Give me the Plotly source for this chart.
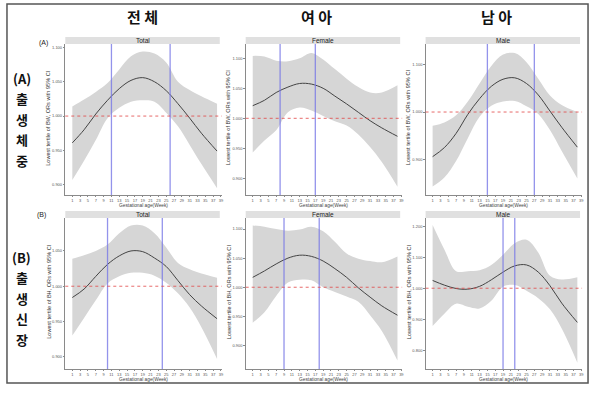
import plotly.graph_objects as go

W, H = 600, 393

weeks = [1, 4, 7, 10, 13, 16, 19, 22, 25, 28, 31, 34, 38]

# Panel data (center, upper, lower)
bw_total_c = [0.961, 0.980, 1.003, 1.023, 1.040, 1.052, 1.056, 1.050, 1.037, 1.018, 0.997, 0.975, 0.949]
bw_total_u = [1.014, 1.024, 1.035, 1.048, 1.068, 1.087, 1.094, 1.091, 1.078, 1.050, 1.038, 1.029, 1.018]
bw_total_l = [0.907, 0.935, 0.965, 0.997, 1.012, 1.021, 1.023, 1.021, 1.005, 0.985, 0.958, 0.930, 0.895]

bw_female_c = [1.021, 1.030, 1.043, 1.052, 1.058, 1.057, 1.050, 1.037, 1.024, 1.010, 0.996, 0.984, 0.970]
bw_female_u = [1.104, 1.103, 1.096, 1.095, 1.100, 1.109, 1.098, 1.082, 1.066, 1.052, 1.043, 1.043, 1.055]
bw_female_l = [0.943, 0.963, 0.980, 1.010, 1.018, 1.013, 1.004, 0.995, 0.988, 0.973, 0.952, 0.927, 0.886]

bw_male_c = [0.906, 0.925, 0.955, 0.995, 1.028, 1.054, 1.069, 1.072, 1.060, 1.036, 1.002, 0.968, 0.926]
bw_male_u = [0.971, 0.978, 0.993, 1.022, 1.060, 1.097, 1.121, 1.124, 1.105, 1.070, 1.035, 1.015, 1.000]
bw_male_l = [0.843, 0.862, 0.897, 0.945, 0.990, 1.013, 1.022, 1.023, 1.012, 0.996, 0.962, 0.918, 0.860]

bh_total_c = [0.984, 0.996, 1.014, 1.031, 1.043, 1.050, 1.049, 1.040, 1.028, 1.008, 0.988, 0.972, 0.954]
bh_total_u = [1.039, 1.044, 1.050, 1.059, 1.075, 1.086, 1.086, 1.075, 1.055, 1.033, 1.024, 1.018, 1.012]
bh_total_l = [0.930, 0.955, 0.980, 1.004, 1.014, 1.019, 1.019, 1.015, 1.005, 0.990, 0.970, 0.942, 0.897]

bh_female_c = [1.017, 1.028, 1.040, 1.050, 1.055, 1.053, 1.045, 1.032, 1.017, 0.999, 0.983, 0.968, 0.952]
bh_female_u = [1.106, 1.104, 1.100, 1.097, 1.099, 1.104, 1.096, 1.078, 1.058, 1.049, 1.045, 1.043, 1.053]
bh_female_l = [0.939, 0.957, 0.985, 1.008, 1.013, 1.012, 1.000, 0.992, 0.984, 0.975, 0.952, 0.925, 0.874]

bh_male_c = [1.025, 1.010, 0.999, 0.997, 1.006, 1.027, 1.052, 1.072, 1.075, 1.052, 1.008, 0.952, 0.890]
bh_male_u = [1.204, 1.125, 1.055, 1.055, 1.058, 1.075, 1.108, 1.145, 1.156, 1.115, 1.040, 1.028, 1.035]
bh_male_l = [0.878, 0.918, 0.950, 0.940, 0.935, 0.960, 1.005, 1.010, 0.992, 0.968, 0.932, 0.870, 0.760]

panel_titles = ["Total", "Female", "Male", "Total", "Female", "Male"]
window_lines = [[11, 26], [8, 17], [15, 27], [10, 24], [9, 18], [19, 22]]
y_ranges = [[0.885, 1.105], [0.8722, 1.1238], [0.8253, 1.1432],
            [0.8827, 1.0967], [0.8596, 1.1189], [0.7398, 1.2262]]
y_ticks = [[0.90, 0.95, 1.00, 1.05, 1.10], [0.90, 0.95, 1.00, 1.05, 1.10], [0.90, 1.00, 1.10],
           [0.90, 0.95, 1.00, 1.05], [0.90, 0.95, 1.00, 1.05, 1.10], [0.80, 0.90, 1.00, 1.10, 1.20]]
x_ticks = list(range(1, 40, 2))
y_titles = ["Lowest tertile of BW, ORs with 95% CI"] * 3 + ["Lowest tertile of BH, ORs with 95% CI"] * 3
col_titles = ["전 체", "여 아", "남 아"]

panels = [
    (bw_total_c, bw_total_u, bw_total_l),
    (bw_female_c, bw_female_u, bw_female_l),
    (bw_male_c, bw_male_u, bw_male_l),
    (bh_total_c, bh_total_u, bh_total_l),
    (bh_female_c, bh_female_u, bh_female_l),
    (bh_male_c, bh_male_u, bh_male_l),
]

# layout geometry in pixels
col_px = [(65.5, 222.5), (246.5, 403.5), (427, 584)]
row_px = [(44, 195), (218, 369)]
strip_h = 7
XR = [-0.8, 39.2]

def px(x):
    return x / W

def py(y):
    return 1 - y / H

fig = go.Figure()
layout = {}
shapes = []
annotations = []

for i, (c, u, l) in enumerate(panels):
    r, k = divmod(i, 3)
    n = i + 1
    xa = "x" if n == 1 else f"x{n}"
    ya = "y" if n == 1 else f"y{n}"
    x0, x1 = col_px[k]
    y0, y1 = row_px[r]
    fig.add_trace(go.Scatter(x=weeks, y=u, mode="lines", line=dict(width=0, shape="spline", smoothing=1.0),
                             hoverinfo="skip", showlegend=False, xaxis=xa, yaxis=ya))
    fig.add_trace(go.Scatter(x=weeks, y=l, mode="lines", line=dict(width=0, shape="spline", smoothing=1.0),
                             fill="tonexty", fillcolor="rgb(214,214,214)",
                             hoverinfo="skip", showlegend=False, xaxis=xa, yaxis=ya))
    fig.add_trace(go.Scatter(x=weeks, y=c, mode="lines", line=dict(width=1, color="#444", shape="spline", smoothing=1.0),
                             showlegend=False, xaxis=xa, yaxis=ya))

    axis_common = dict(showgrid=False, zeroline=False, showline=True, linecolor="#8a8a8a", linewidth=0.8,
                       ticks="outside", ticklen=1.5, tickwidth=0.6, tickcolor="#8a8a8a",
                       tickfont=dict(size=4, color="#555", family="Liberation Sans"))
    layout["xaxis" if n == 1 else f"xaxis{n}"] = dict(
        axis_common, domain=[px(x0), px(x1)], range=XR, anchor=ya,
        tickvals=x_ticks, ticktext=[str(t) for t in x_ticks], tickangle=0)
    layout["yaxis" if n == 1 else f"yaxis{n}"] = dict(
        axis_common, domain=[py(y1), py(y0)], range=y_ranges[i], anchor=xa,
        tickvals=y_ticks[i], ticktext=[f"{t:.3f}" for t in y_ticks[i]])

    # reference lines
    for wv in window_lines[i]:
        shapes.append(dict(type="line", xref=xa, yref=f"{ya} domain", x0=wv, x1=wv, y0=0, y1=1,
                           line=dict(color="rgba(120,120,230,0.8)", width=1.3)))
    shapes.append(dict(type="line", xref=f"{xa} domain", yref=ya, x0=0, x1=1, y0=1.0, y1=1.0,
                       line=dict(color="rgba(225,70,70,0.9)", width=0.9, dash="dot")))
    # strip
    shapes.append(dict(type="rect", xref="paper", yref="paper", x0=px(x0), x1=px(x1 - 2),
                       y0=py(y0), y1=py(y0 - strip_h), fillcolor="#e0e0e0", line=dict(width=0), layer="below"))
    annotations.append(dict(xref="paper", yref="paper", x=px((x0 + x1 - 2) / 2), y=py(y0 - strip_h / 2),
                            text=panel_titles[i], showarrow=False, xanchor="center", yanchor="middle",
                            font=dict(size=6.5, color="#222", family="Liberation Sans")))
    # axis titles
    annotations.append(dict(xref="paper", yref="paper", x=px((x0 + x1) / 2), y=py(y1 + 10.5),
                            text="Gestational age(Week)", showarrow=False, xanchor="center", yanchor="middle",
                            font=dict(size=4.8, color="#444", family="Liberation Sans")))
    annotations.append(dict(xref="paper", yref="paper", x=px(x0 - 17), y=py((y0 + y1) / 2 - 2),
                            text=y_titles[i], showarrow=False, textangle=-90, xanchor="center", yanchor="middle",
                            font=dict(size=5.6, color="#333", family="Liberation Sans")))

# column titles
for k, t in enumerate(col_titles):
    cx = [143, 318, 498][k]
    annotations.append(dict(xref="paper", yref="paper", x=px(cx), y=py(16), text=f"<b>{t}</b>",
                            showarrow=False, xanchor="center", yanchor="middle",
                            font=dict(size=15, color="#111", family="Noto Sans CJK KR")))

# panel row labels
annotations.append(dict(xref="paper", yref="paper", x=px(44), y=py(43), text="(A)", showarrow=False,
                        xanchor="center", yanchor="middle",
                        font=dict(size=7, color="#222", family="Liberation Sans")))
annotations.append(dict(xref="paper", yref="paper", x=px(42), y=py(215), text="(B)", showarrow=False,
                        xanchor="center", yanchor="middle",
                        font=dict(size=7, color="#222", family="Liberation Sans")))

side_a = ["(A)", "출", "생", "체", "중"]
side_b = ["(B)", "출", "생", "신", "장"]
for j, t in enumerate(side_a):
    annotations.append(dict(xref="paper", yref="paper", x=px(22), y=py(78 + 20.5 * j), text=f"<b>{t}</b>",
                            showarrow=False, xanchor="center", yanchor="middle",
                            font=dict(size=13, color="#111", family="Noto Sans CJK KR")))
for j, t in enumerate(side_b):
    annotations.append(dict(xref="paper", yref="paper", x=px(22), y=py(257 + 20.5 * j), text=f"<b>{t}</b>",
                            showarrow=False, xanchor="center", yanchor="middle",
                            font=dict(size=13, color="#111", family="Noto Sans CJK KR")))

# outer frame
shapes.append(dict(type="rect", xref="paper", yref="paper", x0=px(7), x1=px(590), y0=py(383), y1=py(4),
                   line=dict(color="#555", width=1.5), fillcolor="rgba(0,0,0,0)"))

fig.update_layout(**layout)
fig.update_layout(width=W, height=H, autosize=False, margin=dict(l=0, r=0, t=0, b=0),
                  paper_bgcolor="white", plot_bgcolor="white", shapes=shapes, annotations=annotations,
                  showlegend=False)

fig.write_html("out.html", config={"displayModeBar": False},
               post_script="document.body.style.margin='0';document.body.style.overflow='hidden';")
